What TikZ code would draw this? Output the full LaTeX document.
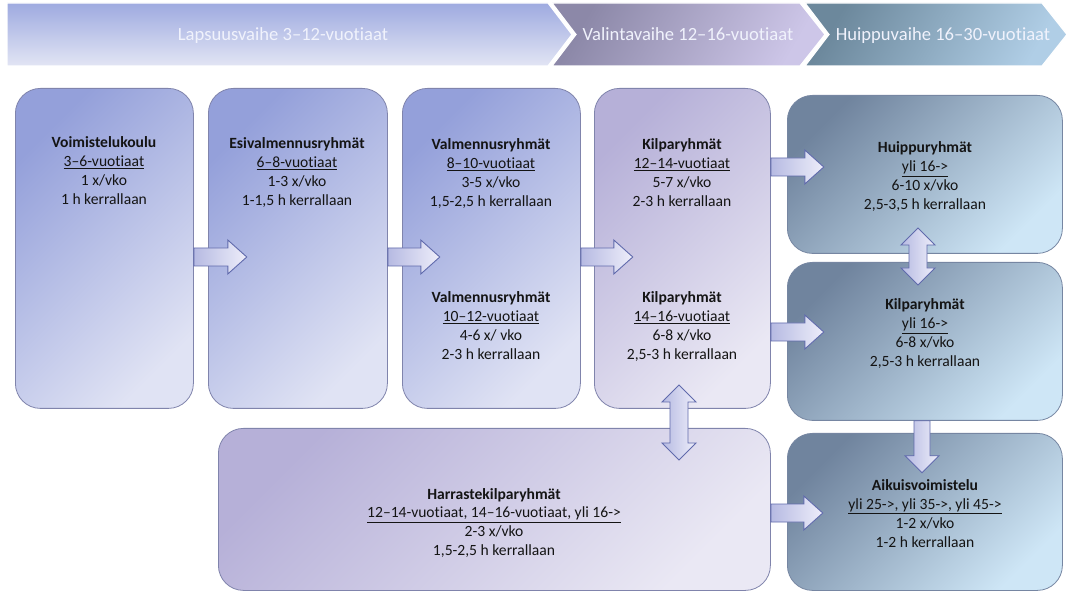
\documentclass[tikz,border=0pt]{standalone}
\usepackage{fontspec}
\setmainfont{Carlito}[Ligatures={NoCommon}]
\usetikzlibrary{calc}
\definecolor{bAtl}{RGB}{148,160,218}
\definecolor{bAbr}{RGB}{224,227,244}
\definecolor{bBtl}{RGB}{182,176,216}
\definecolor{bBbr}{RGB}{234,232,244}
\definecolor{bCtl}{RGB}{112,132,158}
\definecolor{bCbr}{RGB}{206,230,246}
\definecolor{bord}{RGB}{128,132,172}
\definecolor{bordC}{RGB}{118,134,162}
\definecolor{arrl}{RGB}{182,186,226}
\definecolor{arrr}{RGB}{238,238,250}
\definecolor{arrd}{RGB}{96,106,172}
\definecolor{hAt}{RGB}{158,170,224}
\definecolor{hAb}{RGB}{226,229,244}
\definecolor{hBl}{RGB}{140,136,168}
\definecolor{hBr}{RGB}{205,198,232}
\definecolor{hCl}{RGB}{108,136,156}
\definecolor{hCr}{RGB}{176,206,230}
\definecolor{txtc}{RGB}{20,20,20}
\definecolor{htxt}{RGB}{240,242,252}
\newcommand\harrow[2]{% start coordinate, length
  \path[arrst,left color=arrl,right color=arrr] (#1) ++(0,-9) -- ++(#2-19,0) -- ++(0,-8) -- ++(19,17) -- ++(-19,17) -- ++(0,-8) -- ++(-#2+19,0) -- cycle;}
\newcommand\vdarrow[2]{% top tip coordinate, length
  \path[arrst,left color=arrl,right color=arrr] (#1) -- ++(17,17) -- ++(-8,0) -- ++(0,#2-34) -- ++(8,0) -- ++(-17,17) -- ++(-17,-17) -- ++(8,0) -- ++(0,-#2+34) -- ++(-8,0) -- cycle;}
\newcommand\vdown[2]{% top centre coordinate, length
  \path[arrst,left color=arrl,right color=arrr] (#1) ++(-8,0) -- ++(16,0) -- ++(0,#2-17) -- ++(9,0) -- ++(-17,17) -- ++(-17,-17) -- ++(9,0) -- cycle;}
\newcommand\lines[4]{\begin{tabular}[t]{@{}c@{}}\textbf{#1}\\\underline{#2}\\#3\\#4\end{tabular}}
\tikzset{
  boxbase/.style={rectangle, rounded corners=25pt, anchor=north west, inner sep=0pt, line width=0.8pt},
  boxA/.style={boxbase, draw=bord, top color=bAtl, bottom color=bAbr, shading angle=45},
  boxB/.style={boxbase, draw=bord, top color=bBtl, bottom color=bBbr, shading angle=45},
  boxC/.style={boxbase, draw=bordC, top color=bCtl, bottom color=bCbr, shading angle=45},
  arrst/.style={draw=arrd, line width=0.9pt, line join=miter},
  txt/.style={anchor=base, inner sep=0pt, text=txtc, font=\fontsize{15.6}{19}\selectfont},
  htext/.style={anchor=base, inner sep=0pt, text=htxt, font=\fontsize{18.6}{20}\selectfont},
  banner/.style={draw=white, line width=1.2pt}
}
\begin{document}
\begin{tikzpicture}[x=1pt,y=-1pt]
\useasboundingbox (0,0) rectangle (1066,593);
\fill[white] (0,0) rectangle (1066,593);
% header banners
\path[banner, top color=hAt, bottom color=hAb] (7,3) -- (548,3) -- (572,34.5) -- (548,66) -- (7,66) -- cycle;
\path[banner, top color=hBl, bottom color=hBr, shading angle=60] (552,3) -- (800,3) -- (825,34.5) -- (800,66) -- (552,66) -- (576,34.5) -- cycle;
\path[banner, top color=hCl, bottom color=hCr, shading angle=60] (805,3) -- (1042,3) -- (1067,34.5) -- (1042,66) -- (805,66) -- (829,34.5) -- cycle;
\node[htext] (h1) at (283,41) {Lapsuusvaihe 3–12-vuotiaat};
\node[htext] (h2) at (688,41) {Valintavaihe 12–16-vuotiaat};
\node[htext] (h3) at (943,41) {Huippuvaihe 16–30-vuotiaat};
% boxes
\node[boxA, minimum width=178, minimum height=320] (b1) at (15,88) {};
\node[boxA, minimum width=179, minimum height=320] (b2) at (208,88) {};
\node[boxA, minimum width=178, minimum height=320] (b3) at (402,88) {};
\node[boxB, minimum width=176, minimum height=320] (b4) at (594,88) {};
\node[boxC, minimum width=275, minimum height=158] (b5) at (787,95) {};
\node[boxC, minimum width=275, minimum height=158] (b6) at (787,262) {};
\node[boxC, minimum width=275, minimum height=157] (b7) at (787,433) {};
\node[boxB, minimum width=552, minimum height=162] (b8) at (218,428) {};
% texts
\node[txt] (t1) at (104,148) {\lines{Voimistelukoulu}{3–6-vuotiaat}{1 x/vko}{1 h kerrallaan}};
\node[txt] (t2) at (297,149) {\lines{Esivalmennusryhmät}{6–8-vuotiaat}{1-3 x/vko}{1-1,5 h kerrallaan}};
\node[txt] (t3a) at (491,150) {\lines{Valmennusryhmät}{8–10-vuotiaat}{3-5 x/vko}{1,5-2,5 h kerrallaan}};
\node[txt] (t3b) at (491,303) {\lines{Valmennusryhmät}{10–12-vuotiaat}{4-6 x/ vko}{2-3 h kerrallaan}};
\node[txt] (t4a) at (682,150) {\lines{Kilparyhmät}{12–14-vuotiaat}{5-7 x/vko}{2-3 h kerrallaan}};
\node[txt] (t4b) at (682,303) {\lines{Kilparyhmät}{14–16-vuotiaat}{6-8 x/vko}{2,5-3 h kerrallaan}};
\node[txt] (t5) at (925,153) {\lines{Huippuryhmät}{yli 16->}{6-10 x/vko}{2,5-3,5 h kerrallaan}};
\node[txt] (t6) at (925,310) {\lines{Kilparyhmät}{yli 16->}{6-8 x/vko}{2,5-3 h kerrallaan}};
\node[txt] (t7) at (925,490) {\lines{Aikuisvoimistelu}{yli 25->, yli 35->, yli 45->}{1-2 x/vko}{1-2 h kerrallaan}};
\node[txt] (t8) at (494,499) {\lines{Harrastekilparyhmät}{12–14-vuotiaat, 14–16-vuotiaat, yli 16->}{2-3 x/vko}{1,5-2,5 h kerrallaan}};
% arrows
\coordinate (a1) at (b1.east |- 0,257);
\coordinate (a2) at (b2.east |- 0,257);
\coordinate (a3) at (b3.east |- 0,257);
\coordinate (a4) at (b4.east |- 0,167);
\coordinate (a5) at (b4.east |- 0,332);
\coordinate (a8) at (b8.east |- 0,513);
\coordinate (a6) at (918,228);
\coordinate (a7) at (b6.south -| 922,0);
\coordinate (a9) at (679,385);
\harrow{a1}{53}
\harrow{a2}{52}
\harrow{a3}{52}
\harrow{a4}{53}
\harrow{a5}{53}
\harrow{a8}{52}
\vdarrow{a6}{57}
\vdown{a7}{52}
\vdarrow{a9}{75}
\end{tikzpicture}
\end{document}
